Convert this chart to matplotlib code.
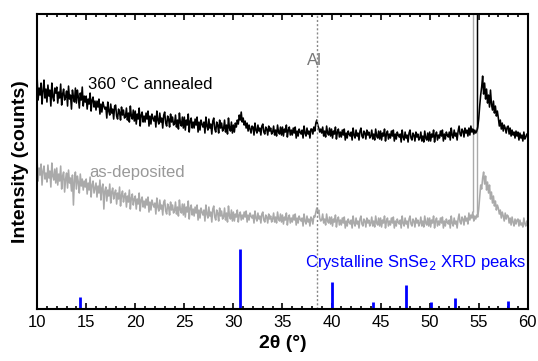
import numpy as np
import matplotlib.pyplot as plt
from matplotlib.ticker import MultipleLocator

plt.rcParams['font.family'] = ['Liberation Sans', 'DejaVu Sans']

# 2theta sampling of the two scans, 10 to 60 deg in 0.1 deg steps
two_theta = np.linspace(10, 60, 501)

# 360 C annealed film, intensity (a.u., offset for display), one row per degree
annealed = [
    232, 209, 221, 214, 226, 205, 218, 229, 211, 220,
    207, 224, 213, 219, 203, 226, 212, 208, 221, 216,
    222, 206, 217, 211, 225, 204, 215, 220, 209, 212,
    218, 203, 223, 210, 214, 200, 219, 212, 207, 221,
    206, 219, 212, 201, 216, 209, 222, 203, 213, 207,
    213, 200, 210, 205, 216, 198, 209, 212, 202, 208,
    199, 208, 202, 210, 195, 205, 197, 207, 203, 200,
    202, 191, 207, 198, 194, 205, 196, 200, 190, 203,
    204, 193, 190, 200, 197, 189, 202, 194, 199, 191,
    192, 201, 189, 196, 187, 203, 193, 190, 199, 188,
    198, 185, 195, 190, 201, 183, 194, 197, 187, 193,
    187, 196, 190, 198, 183, 193, 185, 195, 191, 188,
    193, 182, 198, 189, 185, 196, 187, 191, 181, 194,
    197, 186, 183, 193, 190, 182, 195, 187, 192, 184,
    185, 194, 182, 189, 180, 196, 186, 183, 192, 181,
    192, 179, 189, 184, 195, 177, 188, 191, 181, 187,
    181, 190, 184, 192, 177, 187, 179, 189, 185, 182,
    187, 176, 192, 183, 179, 190, 181, 185, 175, 188,
    191, 180, 177, 187, 184, 176, 189, 181, 186, 178,
    180, 189, 177, 184, 175, 191, 181, 178, 187, 176,
    184, 177, 186, 182, 189, 185, 194, 189, 197, 187,
    191, 184, 188, 181, 186, 178, 184, 180, 176, 183,
    182, 174, 186, 179, 176, 184, 178, 181, 174, 183,
    185, 177, 175, 182, 180, 174, 183, 178, 181, 175,
    177, 183, 174, 179, 173, 184, 177, 175, 182, 174,
    182, 173, 180, 177, 184, 172, 179, 182, 174, 179,
    174, 181, 176, 182, 171, 178, 173, 180, 177, 175,
    179, 171, 183, 176, 173, 181, 175, 178, 171, 180,
    180, 175, 182, 178, 186, 189, 184, 181, 177, 180,
    176, 182, 173, 178, 172, 183, 176, 174, 181, 173,
    180, 171, 178, 175, 182, 170, 177, 180, 172, 177,
    172, 179, 174, 180, 169, 176, 171, 178, 175, 173,
    177, 169, 181, 174, 171, 179, 173, 176, 169, 178,
    181, 173, 171, 178, 176, 170, 179, 174, 177, 171,
    173, 179, 170, 175, 169, 180, 173, 171, 178, 170,
    178, 169, 176, 173, 180, 168, 175, 178, 170, 175,
    171, 178, 173, 179, 168, 175, 170, 177, 174, 172,
    175, 167, 179, 172, 169, 177, 171, 174, 167, 176,
    179, 171, 169, 176, 174, 168, 177, 172, 175, 169,
    171, 177, 168, 173, 167, 178, 171, 169, 176, 168,
    177, 168, 175, 172, 179, 167, 174, 177, 169, 174,
    171, 178, 173, 179, 168, 175, 170, 177, 174, 172,
    177, 169, 181, 174, 171, 179, 173, 176, 169, 178,
    183, 175, 173, 180, 178, 172, 181, 176, 179, 173,
    181, 174, 183, 177, 180, 175, 179, 176, 178, 182,
    190, 203, 214, 222, 233, 215, 226, 210, 220, 206,
    214, 202, 219, 205, 199, 208, 196, 203, 193, 198,
    191, 183, 189, 180, 186, 178, 184, 181, 176, 182,
    183, 175, 181, 173, 179, 174, 177, 171, 178, 173,
    177, 169, 176, 171, 174, 168, 177, 170, 172, 175,
    173,
]

# as-deposited film
as_deposited = [
    149, 128, 141, 134, 145, 124, 138, 143, 130, 136,
    127, 144, 131, 138, 122, 146, 133, 129, 140, 126,
    141, 124, 135, 128, 143, 120, 133, 137, 117, 130,
    136, 121, 139, 126, 131, 118, 134, 104, 129, 137,
    120, 133, 127, 116, 135, 123, 130, 119, 128, 122,
    130, 115, 126, 119, 132, 112, 124, 128, 116, 121,
    126, 112, 123, 116, 129, 109, 121, 125, 100, 118,
    122, 108, 119, 113, 125, 106, 117, 121, 110, 116,
    119, 105, 116, 110, 122, 103, 114, 118, 107, 113,
    116, 102, 113, 107, 119, 100, 111, 115, 104, 110,
    113, 100, 110, 105, 116, 98, 109, 112, 102, 108,
    101, 110, 104, 112, 97, 107, 99, 109, 105, 102,
    106, 95, 111, 102, 98, 109, 100, 104, 94, 107,
    109, 98, 95, 105, 102, 94, 107, 99, 104, 96,
    98, 107, 95, 102, 93, 109, 99, 96, 105, 94,
    105, 92, 102, 97, 108, 90, 101, 104, 94, 100,
    93, 102, 96, 104, 89, 99, 91, 101, 97, 94,
    99, 88, 104, 95, 91, 102, 93, 97, 87, 100,
    103, 92, 89, 99, 96, 88, 101, 93, 98, 90,
    92, 101, 89, 96, 87, 103, 93, 90, 99, 88,
    97, 88, 95, 92, 99, 87, 94, 97, 89, 94,
    90, 97, 92, 98, 87, 94, 89, 96, 93, 91,
    94, 86, 98, 91, 88, 96, 90, 93, 86, 95,
    97, 89, 87, 94, 92, 86, 95, 90, 93, 87,
    90, 96, 87, 92, 86, 97, 90, 88, 95, 87,
    94, 85, 92, 89, 96, 84, 91, 94, 86, 91,
    87, 94, 89, 95, 84, 91, 86, 93, 90, 88,
    91, 83, 95, 88, 85, 93, 87, 90, 83, 92,
    90, 85, 93, 92, 97, 101, 96, 99, 91, 88,
    89, 95, 86, 90, 84, 95, 88, 86, 92, 85,
    92, 83, 90, 87, 94, 82, 89, 92, 84, 89,
    84, 91, 86, 92, 81, 88, 83, 90, 87, 85,
    89, 81, 93, 86, 83, 91, 85, 88, 81, 90,
    93, 85, 83, 90, 88, 82, 91, 86, 89, 83,
    86, 92, 83, 88, 82, 93, 86, 84, 91, 83,
    91, 82, 89, 86, 93, 81, 88, 91, 83, 88,
    84, 91, 86, 92, 81, 88, 83, 90, 87, 85,
    89, 81, 93, 86, 83, 91, 85, 88, 81, 90,
    93, 85, 83, 90, 88, 82, 91, 86, 89, 83,
    86, 92, 83, 88, 82, 93, 86, 84, 91, 83,
    91, 82, 89, 86, 93, 81, 88, 91, 83, 88,
    84, 91, 86, 92, 81, 88, 83, 90, 87, 85,
    89, 81, 93, 86, 83, 91, 85, 88, 81, 90,
    95, 87, 85, 92, 90, 84, 93, 88, 91, 85,
    96, 89, 94, 91, 97, 88, 93, 90, 94, 92,
    100, 112, 124, 120, 131, 137, 125, 133, 119, 127,
    116, 124, 110, 117, 106, 113, 103, 108, 99, 104,
    101, 95, 99, 91, 97, 93, 88, 96, 90, 94,
    93, 86, 91, 84, 92, 87, 83, 90, 85, 89,
    90, 83, 89, 84, 86, 82, 91, 85, 83, 88,
    86,
]

# sharp substrate reflections (run off the top of the plot)
sub_peaks_annealed = [54.85]
sub_peaks_asdep = [54.4, 54.85]

# SnSe2 reference pattern
ref_pos = [14.4, 30.7, 40.0, 44.2, 47.6, 50.1, 52.6, 58.0]
ref_int = [12, 60, 27, 7, 24, 7, 11, 8]

al_pos = 38.5

fig = plt.figure(figsize=(5.38, 3.61), dpi=100)
ax = fig.add_axes([0.069, 0.144, 0.912, 0.817])

ax.plot(two_theta, as_deposited, color='#aaaaaa', lw=1.15)
ax.vlines(sub_peaks_asdep, np.interp(sub_peaks_asdep, two_theta, as_deposited), 400,
          color='#aaaaaa', lw=1.0)
ax.plot(two_theta, annealed, color='black', lw=1.15)
ax.vlines(sub_peaks_annealed, np.interp(sub_peaks_annealed, two_theta, annealed), 400,
          color='black', lw=1.0)

ax.vlines(ref_pos, 0, ref_int, color='#0000ff', lw=2)
ax.axvline(al_pos, color='#888888', lw=1, ls=(0, (1.5, 1.5)))

ax.text(38.3, 249, 'Al', color='#777777', fontsize=12, ha='center', va='center')
ax.text(15.2, 225, '360 °C annealed', color='black', fontsize=12, va='center')
ax.text(15.3, 137, 'as-deposited', color='#999999', fontsize=12, va='center')
ax.text(59.8, 47, 'Crystalline SnSe$_2$ XRD peaks', color='#0000ff', fontsize=12,
        ha='right', va='center')

ax.set_xlim(10, 60)
ax.set_ylim(0, 295)
ax.xaxis.set_major_locator(MultipleLocator(5))
ax.xaxis.set_minor_locator(MultipleLocator(1))
ax.tick_params(axis='x', which='both', direction='in', top=True, labelsize=12, width=1.2)
ax.tick_params(axis='x', which='major', length=4, pad=4)
ax.tick_params(axis='x', which='minor', length=2)
ax.set_yticks([])
for s in ax.spines.values():
    s.set_linewidth(1.5)

ax.set_xlabel('2θ (°)', fontsize=14, fontweight='bold', labelpad=4)
ax.set_ylabel('Intensity (counts)', fontsize=14, fontweight='bold', labelpad=6)

fig.savefig('out.png', dpi=100)
